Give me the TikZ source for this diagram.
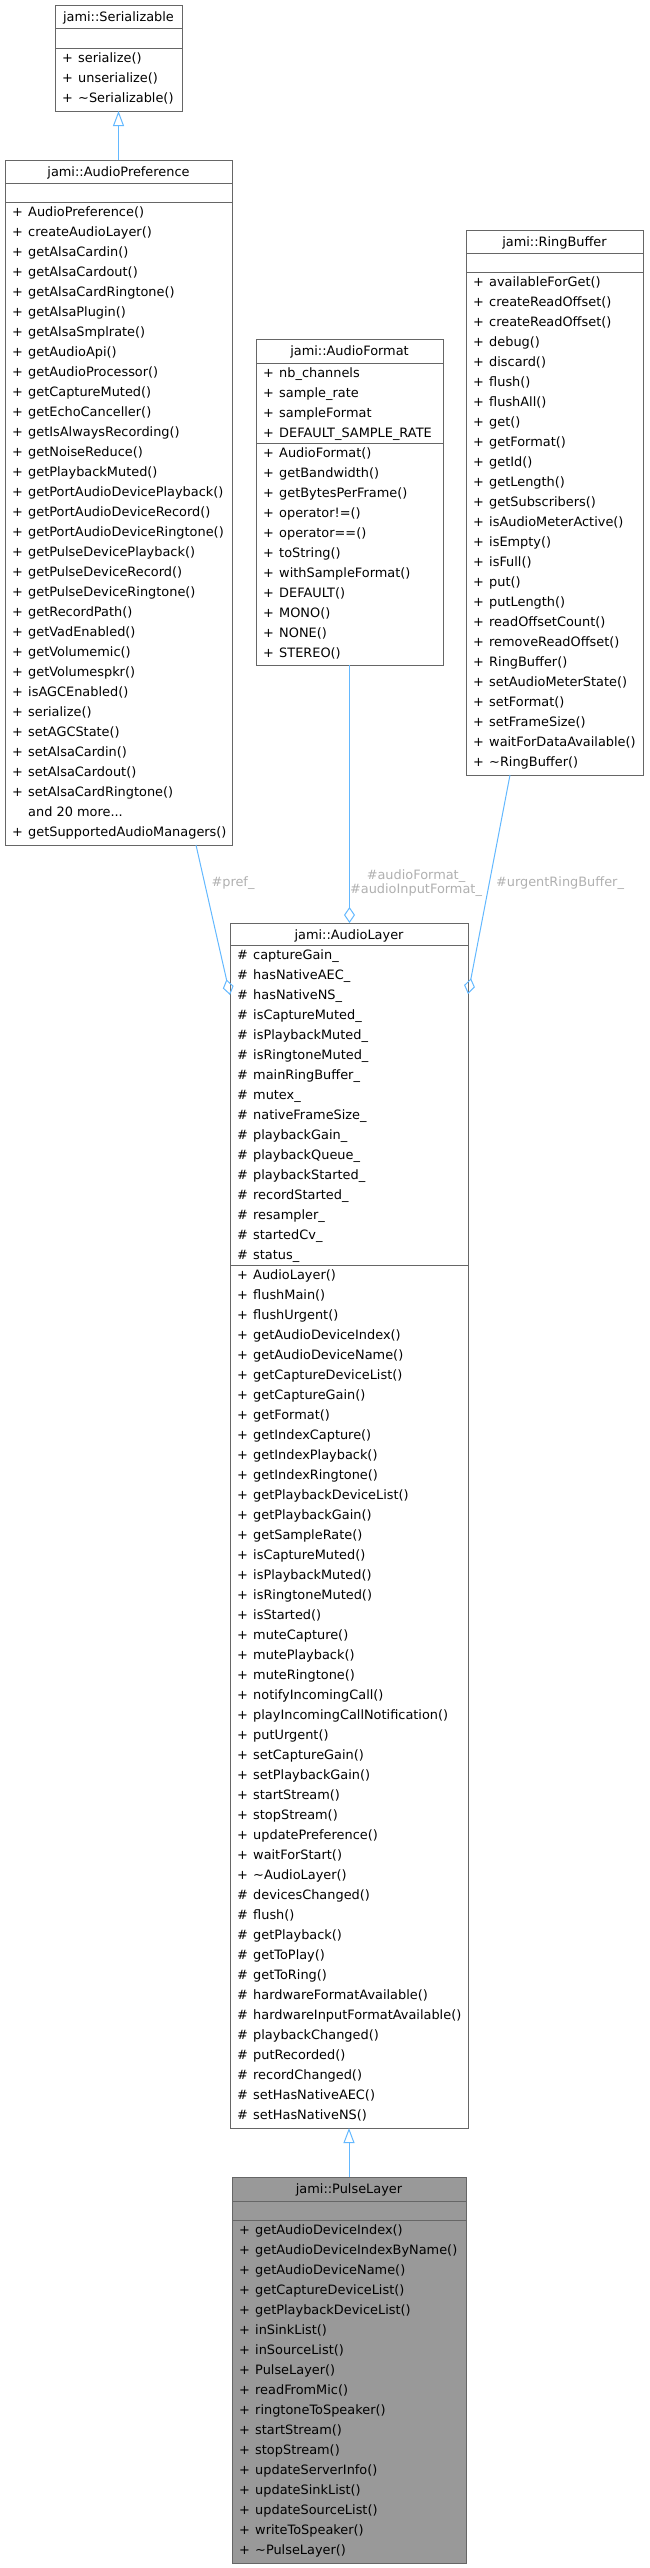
\documentclass[tikz,border=0pt]{standalone}
\usepackage{fontspec}
\setmainfont{DejaVu Sans}
\usetikzlibrary{arrows.meta}
\definecolor{edgeblue}{HTML}{63B8FF}
\definecolor{boxgray}{HTML}{666666}
\definecolor{labelgray}{HTML}{B0B0B0}
\definecolor{mainfill}{HTML}{999999}

\begin{document}
\begin{tikzpicture}[x=1pt,y=-1pt,font=\fontsize{12.9}{14}\selectfont]
% Styles
\tikzstyle{classbox}=[draw=boxgray,line width=1pt,fill=white,inner sep=0pt,outer sep=0pt,anchor=north west]
\tikzstyle{classtitle}=[anchor=base,inner sep=0pt]
\tikzstyle{member}=[anchor=base west,inner sep=0pt]
\tikzstyle{compartment}=[draw=boxgray,line width=1pt]
\tikzstyle{inherit}=[draw=edgeblue,line width=1pt,-{Triangle[open,length=15pt,width=11pt]}]
\tikzstyle{aggregate}=[draw=edgeblue,line width=1pt,-{Diamond[open,length=16pt,width=11pt]}]
\tikzstyle{edgelabel}=[text=labelgray,inner sep=0pt,align=center]
\useasboundingbox (0,0) rectangle (649,2568);

% jami::Serializable
\node[classbox,minimum width=127pt,minimum height=106pt] (serializable) at (55,5) {};
\node[classtitle] (serializable-title) at ([yshift=-16pt]serializable.north) {jami::Serializable};
\draw[compartment] (serializable.west |- 0,28) -- (serializable.east |- 0,28);
\draw[compartment] (serializable.west |- 0,48) -- (serializable.east |- 0,48);
\foreach \m [count=\i from 0] in {serialize(),unserialize(),\textasciitilde Serializable()}
  \node[member] (serializable-\i) at (62,{62.5+20*\i}) {\makebox[16pt][l]{+}\m};

% jami::AudioPreference
\node[classbox,minimum width=227pt,minimum height=685pt] (audiopref) at (5,160) {};
\node[classtitle] (audiopref-title) at ([yshift=-16pt]audiopref.north) {jami::AudioPreference};
\draw[compartment] (audiopref.west |- 0,183) -- (audiopref.east |- 0,183);
\draw[compartment] (audiopref.west |- 0,202) -- (audiopref.east |- 0,202);
\foreach \m [count=\i from 0] in {AudioPreference(),createAudioLayer(),getAlsaCardin(),getAlsaCardout(),
  getAlsaCardRingtone(),getAlsaPlugin(),getAlsaSmplrate(),getAudioApi(),getAudioProcessor(),
  getCaptureMuted(),getEchoCanceller(),getIsAlwaysRecording(),getNoiseReduce(),getPlaybackMuted(),
  getPortAudioDevicePlayback(),getPortAudioDeviceRecord(),getPortAudioDeviceRingtone(),
  getPulseDevicePlayback(),getPulseDeviceRecord(),getPulseDeviceRingtone(),getRecordPath(),
  getVadEnabled(),getVolumemic(),getVolumespkr(),isAGCEnabled(),serialize(),setAGCState(),
  setAlsaCardin(),setAlsaCardout(),setAlsaCardRingtone()}
  \node[member] (audiopref-\i) at (12,{216.5+20*\i}) {\makebox[16pt][l]{+}\m};
\node[member] (audiopref-more) at (28,816.5) {and 20 more...};
\node[member] (audiopref-last) at (12,836.5) {\makebox[16pt][l]{+}getSupportedAudioManagers()};

% jami::AudioFormat
\node[classbox,minimum width=187pt,minimum height=326pt] (audioformat) at (256,339) {};
\node[classtitle] (audioformat-title) at ([yshift=-16pt]audioformat.north) {jami::AudioFormat};
\draw[compartment] (audioformat.west |- 0,363) -- (audioformat.east |- 0,363);
\draw[compartment] (audioformat.west |- 0,443) -- (audioformat.east |- 0,443);
\foreach \m [count=\i from 0] in {nb\_channels,sample\_rate,sampleFormat,DEFAULT\_SAMPLE\_RATE}
  \node[member] (audioformat-a\i) at (263,{377.5+20*\i}) {\makebox[16pt][l]{+}\m};
\foreach \m [count=\i from 0] in {AudioFormat(),getBandwidth(),getBytesPerFrame(),operator!=(),
  operator==(),toString(),withSampleFormat(),DEFAULT(),MONO(),NONE(),STEREO()}
  \node[member] (audioformat-m\i) at (263,{457.5+20*\i}) {\makebox[16pt][l]{+}\m};

% jami::RingBuffer
\node[classbox,minimum width=177pt,minimum height=545pt] (ringbuffer) at (466,230) {};
\node[classtitle] (ringbuffer-title) at ([yshift=-16pt]ringbuffer.north) {jami::RingBuffer};
\draw[compartment] (ringbuffer.west |- 0,253) -- (ringbuffer.east |- 0,253);
\draw[compartment] (ringbuffer.west |- 0,272) -- (ringbuffer.east |- 0,272);
\foreach \m [count=\i from 0] in {availableForGet(),createReadOffset(),createReadOffset(),debug(),
  discard(),flush(),flushAll(),get(),getFormat(),getId(),getLength(),getSubscribers(),
  isAudioMeterActive(),isEmpty(),isFull(),put(),putLength(),readOffsetCount(),removeReadOffset(),
  RingBuffer(),setAudioMeterState(),setFormat(),setFrameSize(),waitForDataAvailable(),
  \textasciitilde RingBuffer()}
  \node[member] (ringbuffer-\i) at (473,{286.5+20*\i}) {\makebox[16pt][l]{+}\m};

% jami::AudioLayer
\node[classbox,minimum width=238pt,minimum height=1205pt] (audiolayer) at (230,923) {};
\node[classtitle] (audiolayer-title) at ([yshift=-16pt]audiolayer.north) {jami::AudioLayer};
\draw[compartment] (audiolayer.west |- 0,945) -- (audiolayer.east |- 0,945);
\draw[compartment] (audiolayer.west |- 0,1265) -- (audiolayer.east |- 0,1265);
\foreach \m [count=\i from 0] in {captureGain\_,hasNativeAEC\_,hasNativeNS\_,isCaptureMuted\_,
  isPlaybackMuted\_,isRingtoneMuted\_,mainRingBuffer\_,mutex\_,nativeFrameSize\_,playbackGain\_,
  playbackQueue\_,playbackStarted\_,recordStarted\_,resampler\_,startedCv\_,status\_}
  \node[member] (audiolayer-a\i) at (237,{959.5+20*\i}) {\makebox[16pt][l]{\#}\m};
\foreach \m [count=\i from 0] in {AudioLayer(),flushMain(),flushUrgent(),getAudioDeviceIndex(),
  getAudioDeviceName(),getCaptureDeviceList(),getCaptureGain(),getFormat(),getIndexCapture(),
  getIndexPlayback(),getIndexRingtone(),getPlaybackDeviceList(),getPlaybackGain(),getSampleRate(),
  isCaptureMuted(),isPlaybackMuted(),isRingtoneMuted(),isStarted(),muteCapture(),mutePlayback(),
  muteRingtone(),notifyIncomingCall(),playIncomingCallNotification(),putUrgent(),setCaptureGain(),
  setPlaybackGain(),startStream(),stopStream(),updatePreference(),waitForStart(),
  \textasciitilde AudioLayer()}
  \node[member] (audiolayer-m\i) at (237,{1279.5+20*\i}) {\makebox[16pt][l]{+}\m};
\foreach \m [count=\i from 0] in {devicesChanged(),flush(),getPlayback(),getToPlay(),getToRing(),
  hardwareFormatAvailable(),hardwareInputFormatAvailable(),playbackChanged(),putRecorded(),
  recordChanged(),setHasNativeAEC(),setHasNativeNS()}
  \node[member] (audiolayer-p\i) at (237,{1899.5+20*\i}) {\makebox[16pt][l]{\#}\m};

% jami::PulseLayer
\node[classbox,fill=mainfill,minimum width=234pt,minimum height=386pt] (pulselayer) at (232,2177) {};
\node[classtitle] (pulselayer-title) at ([yshift=-16pt]pulselayer.north) {jami::PulseLayer};
\draw[compartment] (pulselayer.west |- 0,2201) -- (pulselayer.east |- 0,2201);
\draw[compartment] (pulselayer.west |- 0,2220) -- (pulselayer.east |- 0,2220);
\foreach \m [count=\i from 0] in {getAudioDeviceIndex(),getAudioDeviceIndexByName(),
  getAudioDeviceName(),getCaptureDeviceList(),getPlaybackDeviceList(),inSinkList(),inSourceList(),
  PulseLayer(),readFromMic(),ringtoneToSpeaker(),startStream(),stopStream(),updateServerInfo(),
  updateSinkList(),updateSourceList(),writeToSpeaker(),\textasciitilde PulseLayer()}
  \node[member] (pulselayer-\i) at (239,{2234.5+20*\i}) {\makebox[16pt][l]{+}\m};

% Relations
\draw[inherit] (audiopref.north) -- (serializable.south);
\draw[inherit] (pulselayer.north) -- (audiolayer.south);
\draw[aggregate] ([xshift=-36pt]audiopref.south east) -- ([yshift=-72pt]audiolayer.north west);
\draw[aggregate] (audioformat.south) -- (audioformat.south |- audiolayer.north);
\draw[aggregate] ([xshift=44pt]ringbuffer.south west) -- ([yshift=-71pt]audiolayer.north east);
\node[edgelabel] (pref-label) at (233,883) {\#pref\_};
\node[edgelabel] (format-label) at (416,883) {\#audioFormat\_\\\#audioInputFormat\_};
\node[edgelabel] (urgent-label) at (560,883) {\#urgentRingBuffer\_};
\end{tikzpicture}
\end{document}
